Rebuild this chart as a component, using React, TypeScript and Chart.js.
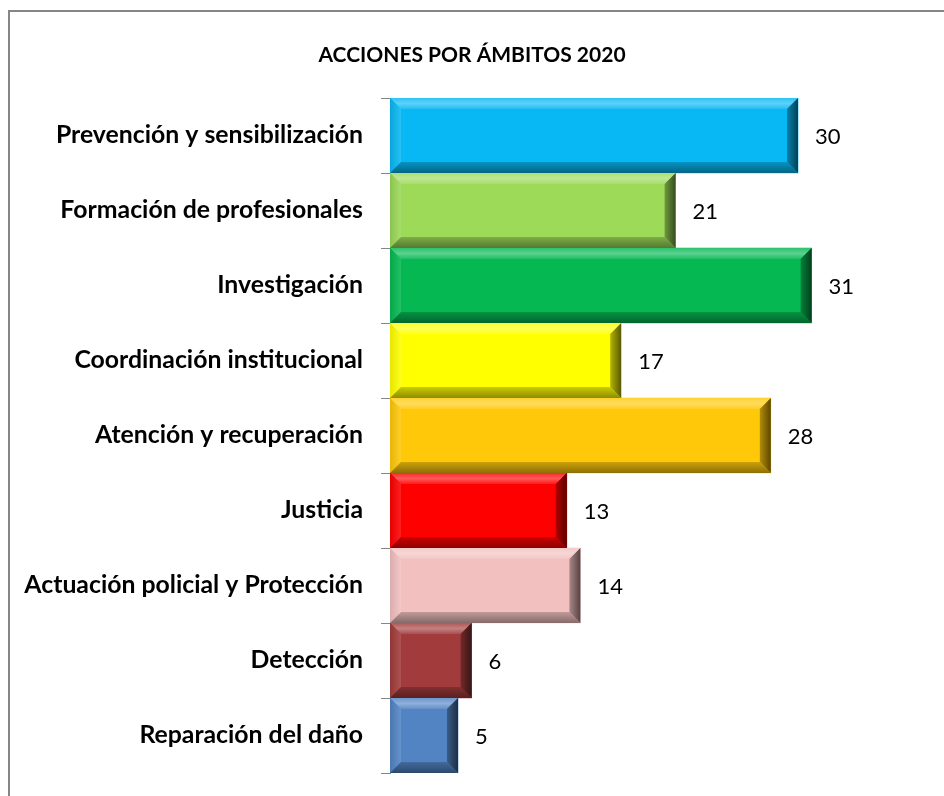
import React, { useEffect, useRef } from "react";
import { Chart, registerables } from "chart.js";

Chart.register(...registerables);

const TITLE = "ACCIONES POR ÁMBITOS 2020";
const categories = [
  "Prevención y sensibilización",
  "Formación de profesionales",
  "Investigación",
  "Coordinación institucional",
  "Atención y recuperación",
  "Justicia",
  "Actuación policial y Protección",
  "Detección",
  "Reparación del daño",
];
const values = [30, 21, 31, 17, 28, 13, 14, 6, 5];
const barColors = [
  "#08B8F4",
  "#9CDA58",
  "#05B852",
  "#FFFF00",
  "#FFC90A",
  "#FF0000",
  "#F3C0C0",
  "#A23B3B",
  "#5284C4",
];

function mix(hex: string, target: number, amt: number): string {
  const n = parseInt(hex.slice(1), 16);
  const r = (n >> 16) & 255, g = (n >> 8) & 255, b = n & 255;
  const f = (c: number) => Math.round(c + (target - c) * amt);
  return `rgb(${f(r)},${f(g)},${f(b)})`;
}

const bevelPlugin = {
  id: "bevel",
  afterDatasetsDraw(chart: any) {
    const ctx = chart.ctx;
    const meta = chart.getDatasetMeta(0);
    meta.data.forEach((el: any, i: number) => {
      const p = el.getProps(["x", "y", "base", "height"], true);
      const l = Math.min(p.base, p.x), r = Math.max(p.base, p.x);
      const t = p.y - p.height / 2, bo = p.y + p.height / 2;
      const b = Math.min(11, (r - l) / 2, (bo - t) / 2);
      const c = barColors[i];
      ctx.save();
      const poly = (pts: number[][], fill: any) => {
        ctx.beginPath();
        ctx.moveTo(pts[0][0], pts[0][1]);
        for (let k = 1; k < pts.length; k++) ctx.lineTo(pts[k][0], pts[k][1]);
        ctx.closePath();
        ctx.fillStyle = fill;
        ctx.fill();
      };
      const gTop = ctx.createLinearGradient(0, t, 0, t + b);
      gTop.addColorStop(0, mix(c, 255, 0.15));
      gTop.addColorStop(0.5, mix(c, 255, 0.35));
      gTop.addColorStop(1, mix(c, 255, 0.1));
      poly([[l, t], [r, t], [r - b, t + b], [l + b, t + b]], gTop);
      const gLeft = ctx.createLinearGradient(l, 0, l + b, 0);
      gLeft.addColorStop(0, mix(c, 0, 0.1));
      gLeft.addColorStop(1, mix(c, 255, 0.12));
      poly([[l, t], [l + b, t + b], [l + b, bo - b], [l, bo]], gLeft);
      const gBot = ctx.createLinearGradient(0, bo - b, 0, bo);
      gBot.addColorStop(0, mix(c, 0, 0.2));
      gBot.addColorStop(1, mix(c, 0, 0.45));
      poly([[l, bo], [l + b, bo - b], [r - b, bo - b], [r, bo]], gBot);
      const gRight = ctx.createLinearGradient(r - b, 0, r, 0);
      gRight.addColorStop(0, mix(c, 0, 0.3));
      gRight.addColorStop(1, mix(c, 0, 0.65));
      poly([[r, t], [r, bo], [r - b, bo - b], [r - b, t + b]], gRight);
      ctx.restore();
    });
  },
};

const valueLabelPlugin = {
  id: "valueLabels",
  afterDatasetsDraw(chart: any) {
    const ctx = chart.ctx;
    const meta = chart.getDatasetMeta(0);
    ctx.save();
    ctx.font = "22px Lato, 'Open Sans', sans-serif";
    ctx.fillStyle = "#000";
    ctx.textAlign = "left";
    ctx.textBaseline = "middle";
    meta.data.forEach((el: any, i: number) => {
      const p = el.getProps(["x", "y"], true);
      ctx.fillText(String(values[i]), p.x + 17, p.y + 1);
    });
    ctx.restore();
  },
};

export default function App() {
  const ref = useRef<HTMLCanvasElement | null>(null);
  useEffect(() => {
    if (!ref.current) return;
    const chart = new Chart(ref.current, {
      type: "bar",
      data: {
        labels: categories,
        datasets: [
          {
            data: values,
            backgroundColor: barColors,
            borderWidth: 0,
            barPercentage: 1,
            categoryPercentage: 1,
          },
        ],
      },
      plugins: [bevelPlugin, valueLabelPlugin],
      options: {
        indexAxis: "y",
        animation: false,
        responsive: false,
        devicePixelRatio: 1,
        layout: { padding: { left: 0, right: 10, top: 0, bottom: 25 } },
        plugins: {
          legend: { display: false },
          tooltip: { enabled: false },
          title: {
            display: true,
            text: TITLE,
            color: "#000",
            font: { family: "Lato, 'Open Sans', sans-serif", size: 21, weight: "bold", lineHeight: 1.2 },
            padding: { top: 31, bottom: 29.8 },
          },
        },
        scales: {
          x: { display: false, min: 0, max: 40 },
          y: {
            afterFit(scale: any) {
              scale.width = 380;
              scale.paddingTop = 0;
              scale.paddingBottom = 0;
            },
            grid: {
              drawOnChartArea: false,
              tickLength: 9,
              color: "#868686",
              offset: true,
            },
            border: { display: true, color: "#868686", width: 1 },
            ticks: {
              color: "#000",
              padding: 18,
              font: { family: "Lato, 'Open Sans', sans-serif", size: 24.8, weight: "bold" },
            },
          },
        },
      } as any,
    });
    return () => chart.destroy();
  }, []);
  return (
    <div
      style={{
        position: "absolute",
        top: 10,
        left: 8,
        width: 936,
        height: 786,
        borderTop: "2px solid #868686",
        borderLeft: "2px solid #868686",
      }}
    >
      <canvas ref={ref} width={934} height={786} style={{ display: "block" }} />
    </div>
  );
}
